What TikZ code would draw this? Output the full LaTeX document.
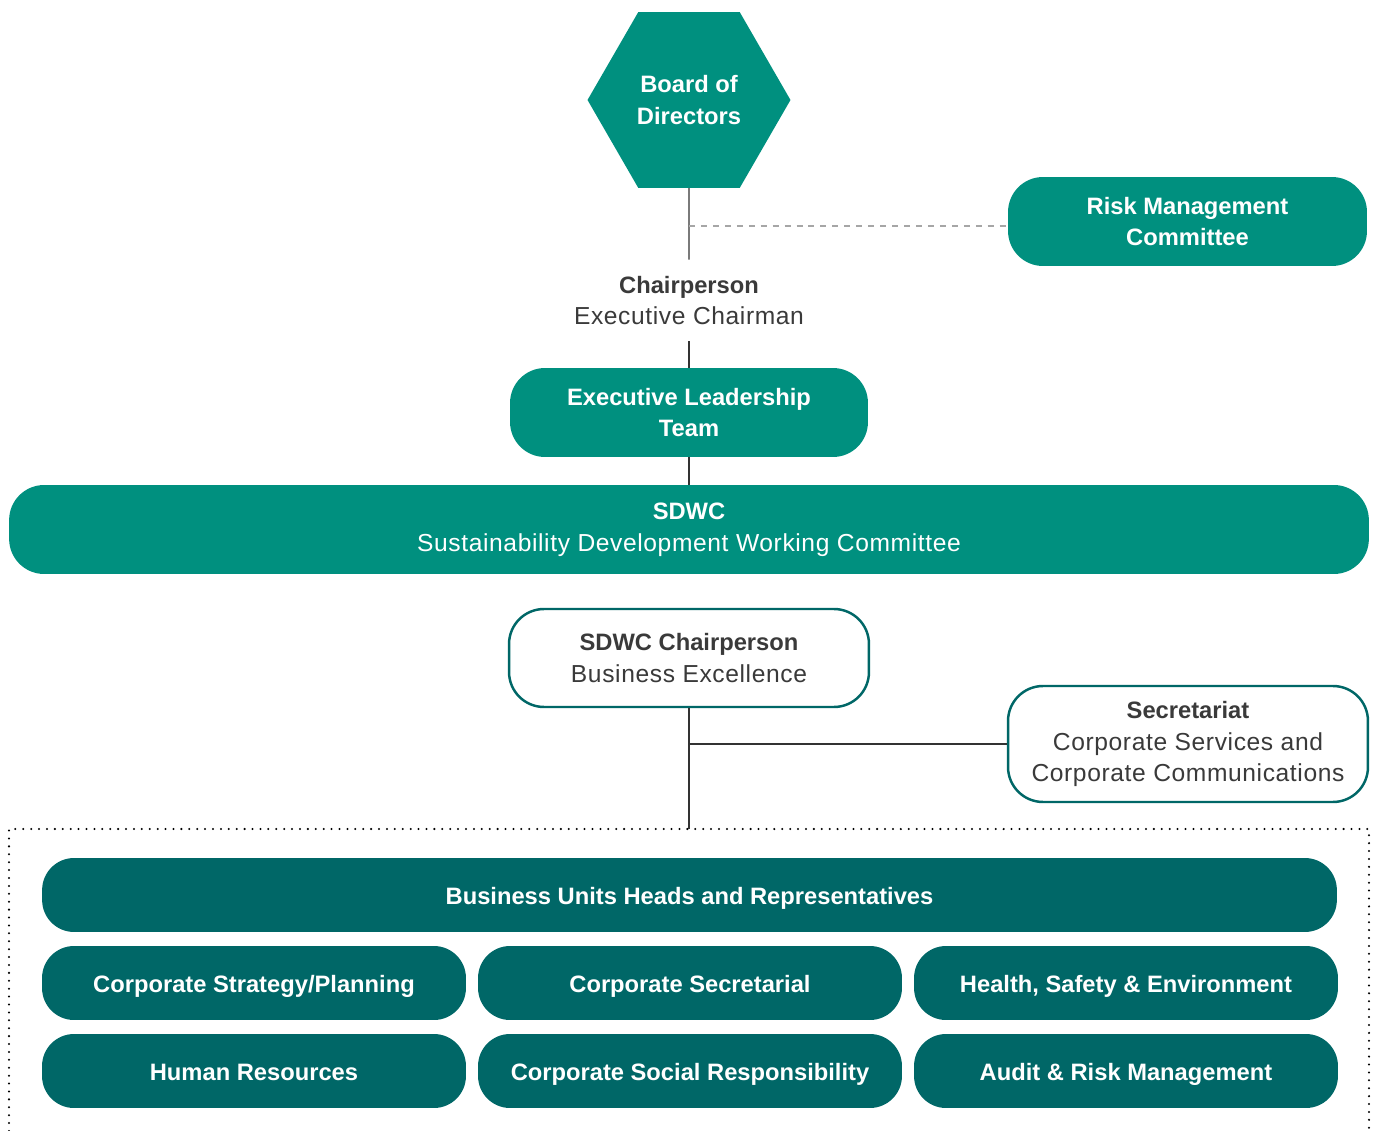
\documentclass[tikz,border=0pt]{standalone}
\usepackage{fontspec}
\setmainfont{Liberation Sans}
\newfontfamily\plainfont[LetterSpace=2.5]{Liberation Sans}
\usepackage{tikz}
\usetikzlibrary{positioning}
\usetikzlibrary{shapes.geometric}

\definecolor{sdgreen}{HTML}{00907F}
\definecolor{sdteal}{HTML}{006767}
\definecolor{sdtext}{HTML}{3A3A3A}
\definecolor{sdline}{HTML}{333333}

% second line of a box, in the lighter face
\newcommand{\subline}[1]{{\plainfont\mdseries\fontsize{14}{18}\selectfont #1}}

\begin{document}
\begin{tikzpicture}[x=0.02cm,y=-0.02cm]

\tikzset{
	box/.style={
		rounded corners=#1,
		inner sep=0pt,
		align=center,
		font=\fontsize{13.5}{18}\selectfont
	},
	box/.default=0.7cm,
	green box/.style={box, fill=sdgreen, text=white, font=\fontsize{13.5}{18}\selectfont\bfseries},
	teal box/.style={box=0.64cm, fill=sdteal, text=white, minimum height=1.48cm,
		text height=11.8pt, text depth=1pt,
		font=\fontsize{13.5}{18}\selectfont\bfseries},
	white box/.style={box, draw=sdteal, line width=1.4pt, fill=white, text=sdtext},
	link/.style={draw=sdline, line width=0.8pt},
	dashed link/.style={draw=gray!70, line width=0.6pt, dash pattern=on 3.4pt off 3.4pt},
	dot frame/.style={draw=black, line width=1.3pt, line cap=round, dash pattern=on 0pt off 4.5pt}
}
\useasboundingbox (0,0) rectangle (1373,1131);

% top of the chart
\node[regular polygon, regular polygon sides=6, minimum size=4.06cm, inner sep=0pt,
	fill=sdgreen, text=white, align=center, font=\fontsize{13.5}{18}\selectfont\bfseries]
	(board) at (689,100) {Board of\\Directors};
\node[green box, minimum width=7.18cm, minimum height=1.78cm] (risk) at (1187.5,221.5)
	{Risk Management\\Committee};
\node[box, text=sdtext, minimum height=1.62cm] (chair) at (689,300.5)
	{\textbf{Chairperson}\\\subline{Executive Chairman}};
\node[green box, minimum width=7.16cm, minimum height=1.78cm] (elt) at (689,412.5)
	{Executive Leadership\\Team};
\node[green box, minimum width=27.2cm, minimum height=1.78cm] (sdwc) at (689,529.5)
	{SDWC\\\subline{Sustainability Development Working Committee}};

% working committee
\node[white box, minimum width=7.2cm, minimum height=1.96cm] (sdwcchair) at (689,658)
	{\textbf{SDWC Chairperson}\\\subline{Business Excellence}};
\node[white box, minimum width=7.2cm, minimum height=2.32cm] (sec) at (1188,744)
	{\textbf{Secretariat}\\\subline{Corporate Services and}\\\subline{Corporate Communications}};
\coordinate (frametop) at (689,829);

% members
\node[teal box, minimum width=25.9cm] (bu) at (689.5,895) {Business Units Heads and Representatives};
\node[teal box, minimum width=8.48cm] (strategy) at (254,983) {Corporate Strategy/Planning};
\node[teal box, minimum width=8.48cm] (cosec) at (690,983) {Corporate Secretarial};
\node[teal box, minimum width=8.48cm] (hse) at (1126,983) {Health, Safety \& Environment};
\node[teal box, minimum width=8.48cm] (hr) at (254,1071) {Human Resources};
\node[teal box, minimum width=8.48cm] (csr) at (690,1071) {Corporate Social Responsibility};
\node[teal box, minimum width=8.48cm] (audit) at (1126,1071) {Audit \& Risk Management};

\draw[dot frame] (9,1131) -- (9,829) -- (1369,829) -- (1369,1131);

% connectors
\draw[link] (board.south) -- (chair.north);
\draw[dashed link] ([yshift=-0.09cm]board.south |- risk.west) -- ([yshift=-0.09cm]risk.west);
\draw[link] (chair.south) -- (elt.north);
\draw[link] (elt.south) -- (sdwc.north);
\draw[link] (sdwcchair.south) -- (frametop);
\draw[link] (sdwcchair.south |- sec.west) -- (sec.west);

\end{tikzpicture}
\end{document}
